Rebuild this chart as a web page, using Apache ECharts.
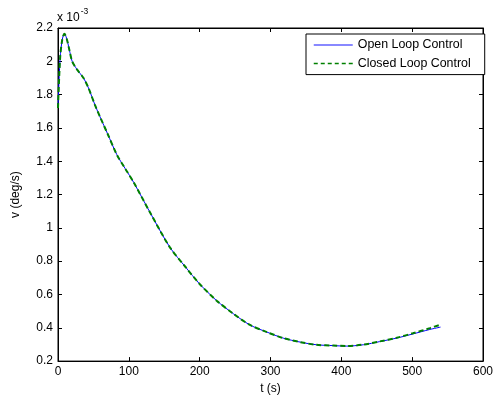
<!DOCTYPE html>
<html>
<head>
<meta charset="utf-8">
<script src="https://cdn.jsdelivr.net/npm/echarts@6/dist/echarts.min.js"></script>
<style>html,body{margin:0;padding:0;background:#fff}#c{width:498px;height:400px}</style>
</head>
<body>
<div id="c"></div>
<script>
var timeS = [0, 3, 6, 9, 12, 16, 20, 27, 36, 43, 52, 60, 70, 83, 95, 107, 130, 158, 180, 200, 224, 248, 271, 295, 318, 342, 365, 389, 407, 431, 454, 478, 501, 525, 540];
var openLoop = [1.72, 2.02, 2.13, 2.165, 2.14, 2.07, 2.0, 1.95, 1.90, 1.84, 1.74, 1.66, 1.565, 1.44, 1.355, 1.272, 1.092, 0.883, 0.765, 0.663, 0.563, 0.483, 0.417, 0.374, 0.338, 0.314, 0.298, 0.293, 0.29, 0.298, 0.317, 0.338, 0.363, 0.39, 0.404];
var closedLoop = [1.72, 2.02, 2.13, 2.165, 2.14, 2.07, 2.0, 1.95, 1.90, 1.84, 1.74, 1.66, 1.565, 1.44, 1.355, 1.272, 1.092, 0.883, 0.765, 0.663, 0.563, 0.483, 0.417, 0.374, 0.338, 0.314, 0.298, 0.293, 0.291, 0.299, 0.318, 0.340, 0.367, 0.398, 0.419];
var seriesNames = ['Open Loop Control', 'Closed Loop Control'];
var xLabel = 't (s)';
var yLabel = 'v (deg/s)';

function pairs(xs, ys) { return xs.map(function (x, i) { return [x, ys[i]]; }); }
var F = 'Liberation Sans, Arial, sans-serif';
var FS = 12;
var chart = echarts.init(document.getElementById('c'), null, {renderer: 'canvas'});
var tickStyle = {show: true, inside: true, length: 4, lineStyle: {color: '#000', width: 1}};
chart.setOption({
  animation: false,
  backgroundColor: '#fff',
  grid: {left: 58, right: 15, top: 28, bottom: 38, show: true, borderColor: '#000', borderWidth: 1},
  legend: {
    show: true, left: 306, top: 34, orient: 'vertical', itemWidth: 39, itemHeight: 12, itemGap: 6.6,
    backgroundColor: '#fff', borderColor: '#000', borderWidth: 1, padding: [5, 14, 5, 7],
    textStyle: {fontFamily: F, fontSize: 12.4, color: '#000'},
    itemStyle: {opacity: 0},
    data: [
      {name: seriesNames[0], lineStyle: {width: 1.5, color: '#6060ff'}},
      {name: seriesNames[1], lineStyle: {width: 1.5, color: '#008000', type: [4, 3]}}
    ]
  },
  xAxis: [
    {type: 'value', min: 0, max: 600, interval: 100, name: xLabel, nameLocation: 'middle', nameGap: 19,
     nameTextStyle: {fontFamily: F, fontSize: FS, color: '#000'},
     axisLine: {show: true, onZero: false, lineStyle: {color: '#000'}}, axisTick: tickStyle,
     axisLabel: {fontFamily: F, fontSize: FS, color: '#000', margin: 5}, splitLine: {show: false}},
    {type: 'value', position: 'top', min: 0, max: 600, interval: 100,
     axisLine: {show: true, onZero: false, lineStyle: {color: '#000'}}, axisTick: tickStyle,
     axisLabel: {show: false}, splitLine: {show: false}}
  ],
  yAxis: [
    {type: 'value', min: 0.2, max: 2.2, interval: 0.2, name: yLabel, nameLocation: 'middle', nameGap: 36,
     nameTextStyle: {fontFamily: F, fontSize: FS, color: '#000'},
     axisLine: {show: true, onZero: false, lineStyle: {color: '#000'}}, axisTick: tickStyle,
     axisLabel: {fontFamily: F, fontSize: FS, color: '#000', margin: 5,
       formatter: function (v) { return String(parseFloat(v.toFixed(1))); }},
     splitLine: {show: false}},
    {type: 'value', position: 'right', min: 0.2, max: 2.2, interval: 0.2,
     axisLine: {show: true, onZero: false, lineStyle: {color: '#000'}}, axisTick: tickStyle,
     axisLabel: {show: false}, splitLine: {show: false}}
  ],
  graphic: [{
    type: 'text', left: 57, top: 7,
    style: {text: '{a|x 10}{b|-3}', rich: {
      a: {fontFamily: F, fontSize: 12, fill: '#000', padding: [7, 0, 0, 0]},
      b: {fontFamily: F, fontSize: 8.5, fill: '#000', padding: [0, 0, 6, 1]}
    }}
  }],
  series: [
    {name: seriesNames[0], type: 'line', data: pairs(timeS, openLoop), smooth: 0.3, showSymbol: false,
     symbol: 'none', lineStyle: {color: '#0000ff', width: 1, type: 'solid'}, itemStyle: {color: '#6060ff'}, z: 2},
    {name: seriesNames[1], type: 'line', data: pairs(timeS, closedLoop), smooth: 0.3, showSymbol: false,
     symbol: 'none', lineStyle: {color: '#008000', width: 2, type: [5, 3]}, itemStyle: {color: '#008000'}, z: 3}
  ]
});
</script>
</body>
</html>
